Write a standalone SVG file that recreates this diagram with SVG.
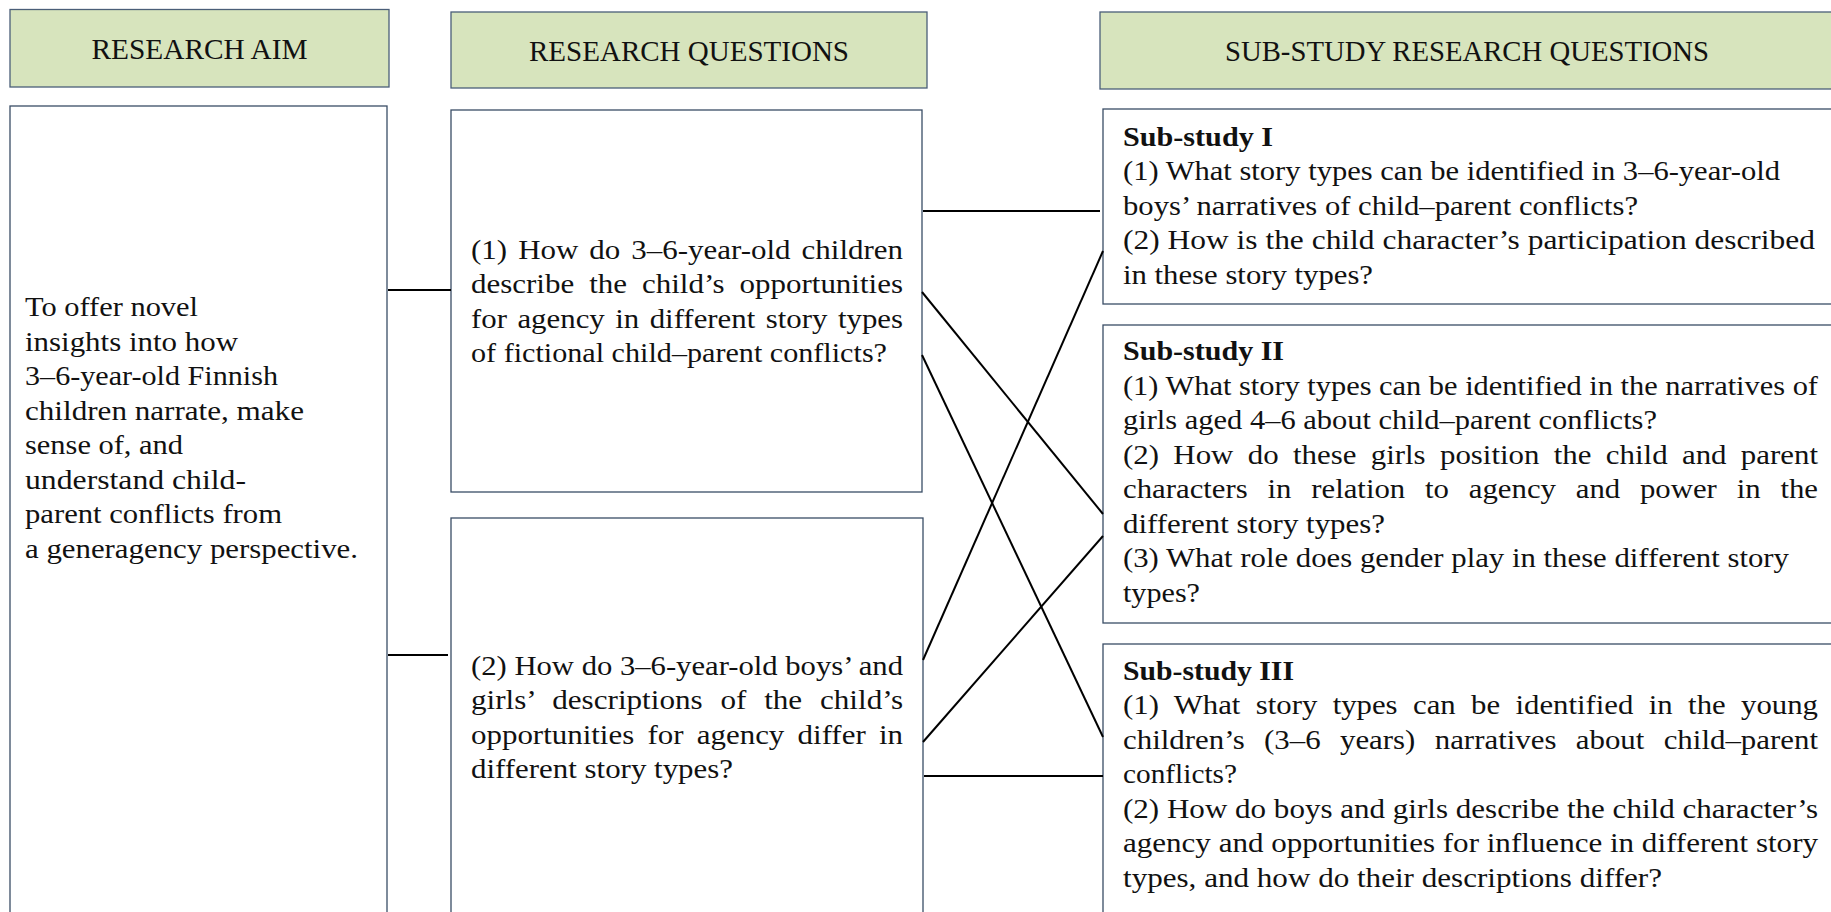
<svg xmlns="http://www.w3.org/2000/svg" width="1831" height="912" viewBox="0 0 1831 912">
<style>
.hdr{fill:#D7E4BD;stroke:#4A5E78;stroke-width:1.3}
.box{fill:#FFFFFF;stroke:#3A4D66;stroke-width:1.3}
text{font-family:"Liberation Serif","Times New Roman",serif;font-size:28px;fill:#111111}
.h{font-size:29px;text-anchor:middle}
.b{font-weight:bold}
#connectors line{stroke:#000000;stroke-width:2;fill:none}
</style>
<rect x="0" y="0" width="1831" height="912" fill="#FFFFFF"/>

<g id="hdr-aim">
<rect class="hdr" x="10" y="9.5" width="379" height="77.5"/>
<text class="h" x="199.5" y="58.5" textLength="216" lengthAdjust="spacingAndGlyphs">RESEARCH AIM</text>
</g>
<g id="hdr-rq">
<rect class="hdr" x="451" y="12" width="476" height="76"/>
<text class="h" x="689" y="60.5" textLength="320" lengthAdjust="spacingAndGlyphs">RESEARCH QUESTIONS</text>
</g>
<g id="hdr-sub">
<rect class="hdr" x="1100" y="12" width="740" height="77"/>
<text class="h" x="1467" y="60.5" textLength="484" lengthAdjust="spacingAndGlyphs">SUB-STUDY RESEARCH QUESTIONS</text>
</g>

<g id="aim">
<rect class="box" x="10" y="106" width="377" height="820"/>
<text x="25" y="316" textLength="173" lengthAdjust="spacingAndGlyphs">To offer novel</text>
<text x="25" y="350.6" textLength="213" lengthAdjust="spacingAndGlyphs">insights into how</text>
<text x="25" y="385.1" textLength="253" lengthAdjust="spacingAndGlyphs">3–6-year-old Finnish</text>
<text x="25" y="419.7" textLength="279" lengthAdjust="spacingAndGlyphs">children narrate, make</text>
<text x="25" y="454.3" textLength="158" lengthAdjust="spacingAndGlyphs">sense of, and</text>
<text x="25" y="488.9" textLength="221" lengthAdjust="spacingAndGlyphs">understand child-</text>
<text x="25" y="523.4" textLength="257" lengthAdjust="spacingAndGlyphs">parent conflicts from</text>
<text x="25" y="558" textLength="333" lengthAdjust="spacingAndGlyphs">a generagency perspective.</text>
</g>

<g id="rq1">
<rect class="box" x="451" y="110" width="471" height="382"/>
<text x="471" y="258.5" word-spacing="3" textLength="432" lengthAdjust="spacingAndGlyphs">(1) How do 3–6-year-old children</text>
<text x="471" y="293" word-spacing="6.5" textLength="432" lengthAdjust="spacingAndGlyphs">describe the child’s opportunities</text>
<text x="471" y="327.5" word-spacing="2.5" textLength="432" lengthAdjust="spacingAndGlyphs">for agency in different story types</text>
<text x="471" y="362" textLength="416" lengthAdjust="spacingAndGlyphs">of fictional child–parent conflicts?</text>
</g>

<g id="rq2">
<rect class="box" x="451" y="518" width="472" height="410"/>
<text x="471" y="674.5" textLength="432" lengthAdjust="spacingAndGlyphs">(2) How do 3–6-year-old boys’ and</text>
<text x="471" y="709" word-spacing="9" textLength="432" lengthAdjust="spacingAndGlyphs">girls’ descriptions of the child’s</text>
<text x="471" y="743.5" word-spacing="5" textLength="432" lengthAdjust="spacingAndGlyphs">opportunities for agency differ in</text>
<text x="471" y="778" textLength="262" lengthAdjust="spacingAndGlyphs">different story types?</text>
</g>

<g id="sub1">
<rect class="box" x="1103" y="109" width="740" height="195"/>
<text class="b" x="1123" y="145.5" textLength="150" lengthAdjust="spacingAndGlyphs">Sub-study I</text>
<text x="1123" y="180" textLength="657" lengthAdjust="spacingAndGlyphs">(1) What story types can be identified in 3–6-year-old</text>
<text x="1123" y="214.5" textLength="515" lengthAdjust="spacingAndGlyphs">boys’ narratives of child–parent conflicts?</text>
<text x="1123" y="249" textLength="692" lengthAdjust="spacingAndGlyphs">(2) How is the child character’s participation described</text>
<text x="1123" y="283.5" textLength="250" lengthAdjust="spacingAndGlyphs">in these story types?</text>
</g>

<g id="sub2">
<rect class="box" x="1103" y="325" width="740" height="298"/>
<text class="b" x="1123" y="360" textLength="161" lengthAdjust="spacingAndGlyphs">Sub-study II</text>
<text x="1123" y="394.5" textLength="695" lengthAdjust="spacingAndGlyphs">(1) What story types can be identified in the narratives of</text>
<text x="1123" y="429" textLength="534" lengthAdjust="spacingAndGlyphs">girls aged 4–6 about child–parent conflicts?</text>
<text x="1123" y="463.5" word-spacing="6" textLength="695" lengthAdjust="spacingAndGlyphs">(2) How do these girls position the child and parent</text>
<text x="1123" y="498" word-spacing="11" textLength="695" lengthAdjust="spacingAndGlyphs">characters in relation to agency and power in the</text>
<text x="1123" y="532.5" textLength="262" lengthAdjust="spacingAndGlyphs">different story types?</text>
<text x="1123" y="567" textLength="666" lengthAdjust="spacingAndGlyphs">(3) What role does gender play in these different story</text>
<text x="1123" y="601.5" textLength="77" lengthAdjust="spacingAndGlyphs">types?</text>
</g>

<g id="sub3">
<rect class="box" x="1103" y="644" width="740" height="290"/>
<text class="b" x="1123" y="679.5" textLength="171" lengthAdjust="spacingAndGlyphs">Sub-study III</text>
<text x="1123" y="714" word-spacing="7" textLength="695" lengthAdjust="spacingAndGlyphs">(1) What story types can be identified in the young</text>
<text x="1123" y="748.5" word-spacing="10.5" textLength="695" lengthAdjust="spacingAndGlyphs">children’s (3–6 years) narratives about child–parent</text>
<text x="1123" y="783" textLength="114" lengthAdjust="spacingAndGlyphs">conflicts?</text>
<text x="1123" y="817.5" textLength="695" lengthAdjust="spacingAndGlyphs">(2) How do boys and girls describe the child character’s</text>
<text x="1123" y="852" textLength="695" lengthAdjust="spacingAndGlyphs">agency and opportunities for influence in different story</text>
<text x="1123" y="886.5" textLength="539" lengthAdjust="spacingAndGlyphs">types, and how do their descriptions differ?</text>
</g>

<g id="connectors">
<line x1="388" y1="290" x2="451" y2="290"/>
<line x1="388" y1="655" x2="448" y2="655"/>
<line x1="923" y1="211" x2="1100" y2="211"/>
<line x1="922" y1="292" x2="1103" y2="514"/>
<line x1="922" y1="355" x2="1103" y2="737"/>
<line x1="923" y1="660" x2="1103" y2="251"/>
<line x1="923" y1="742" x2="1103" y2="536"/>
<line x1="924" y1="776" x2="1103" y2="776"/>
</g>
</svg>
